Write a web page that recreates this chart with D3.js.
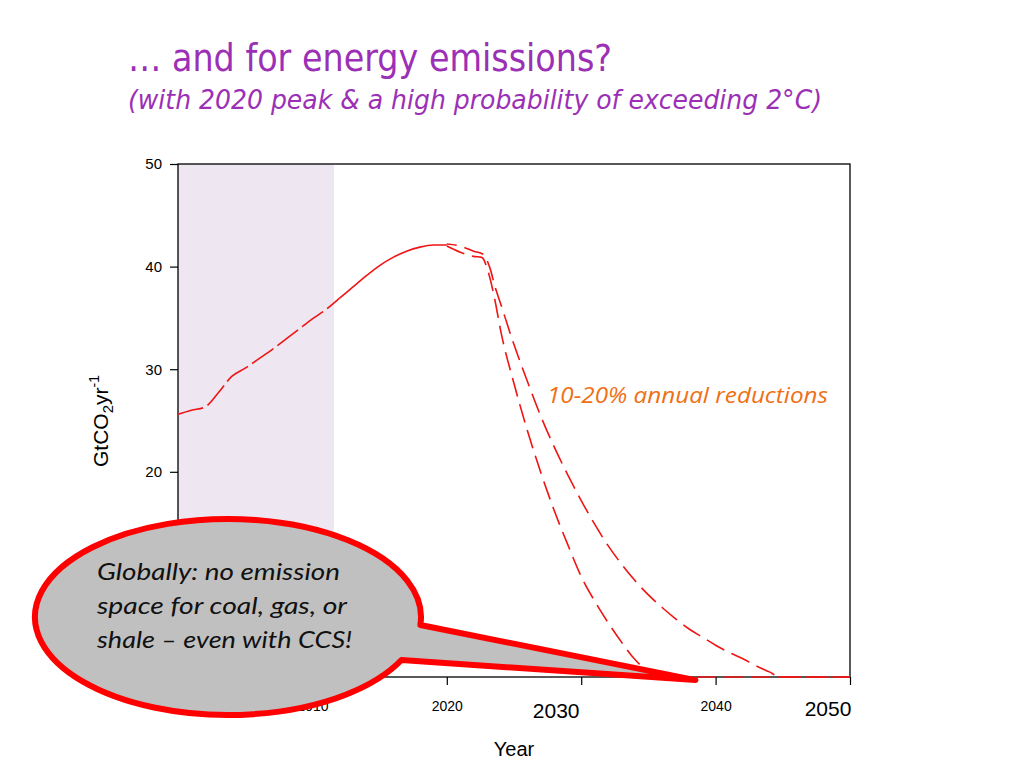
<!DOCTYPE html>
<html>
<head>
<meta charset="utf-8">
<script src="https://cdn.jsdelivr.net/npm/d3@7"></script>
<style>
  html, body { margin: 0; padding: 0; background: #ffffff; }
  svg { display: block; }
</style>
</head>
<body>
<svg id="chart" width="1024" height="768"></svg>
<script>
// ---------------- data ----------------
const historyYears  = [2000, 2001, 2002, 2003, 2004, 2005, 2006, 2007, 2008, 2009, 2010,
                       2011, 2012, 2013, 2014, 2015, 2016, 2017, 2018, 2019, 2020];
const historyValues = [25.6, 26.0, 26.3, 27.7, 29.3, 30.1, 31.0, 31.9, 32.9, 33.9, 34.9,
                       35.8, 36.9, 38.0, 39.1, 40.1, 40.9, 41.5, 41.9, 42.1, 42.1];

// 20% annual reductions (steeper)
const steepYears  = [2020, 2021, 2022, 2022.6, 2023.1, 2023.6, 2024, 2025, 2026, 2027, 2028,
                     2029, 2030, 2031, 2032, 2033, 2034, 2035, 2035.6, 2040, 2045, 2050];
const steepValues = [42.0, 41.4, 41.0, 40.9, 39.4, 36.6, 33.8, 28.6, 24.0, 19.9, 16.2,
                     12.9, 9.8, 7.4, 5.3, 3.4, 1.7, 0.5, 0, 0, 0, 0];

// 10% annual reductions (gentler)
const gentleYears  = [2020, 2021, 2022, 2022.7, 2023.2, 2023.6, 2024, 2025, 2026, 2027, 2028,
                      2029, 2030, 2031, 2032, 2033, 2034, 2035, 2036, 2037, 2038, 2039,
                      2040, 2041, 2042, 2043, 2044, 2044.8, 2050];
const gentleValues = [42.2, 42.0, 41.5, 41.2, 39.9, 38.0, 36.4, 32.4, 28.8, 25.4, 22.4,
                      19.7, 17.2, 14.9, 12.8, 11.0, 9.4, 8.0, 6.8, 5.7, 4.7, 3.9,
                      3.1, 2.4, 1.8, 1.1, 0.5, 0, 0];

const xTicks = [2000, 2010, 2020, 2030, 2040, 2050];
const xTickLabelsSmall = ["2000", "2010", "2020", "", "2040", ""];
const xBigLabels = [2030, 2050];
const yTicks = [0, 10, 20, 30, 40, 50];
const yTickLabels = ["", "", "20", "30", "40", "50"];   // 0 and 10 are hidden behind the callout
const shadeRange = [2000, 2011.6];
const dashedHistoryEnd = 2012;

const titleText = "\u2026 and for energy emissions?";
const subtitleText = "(with 2020 peak & a high probability of exceeding 2\u00B0C)";
const noteText = "10-20% annual reductions";
const calloutLines = ["Globally: no emission", "space for coal, gas, or", "shale \u2013 even with CCS!"];
const calloutPoint = [2038.5, -0.3];

// ---------------- layout ----------------
const svg = d3.select("#chart");
const pLeft = 178, pRight = 850, pTop = 164, pBottom = 677;
const red = "#f01414";

const x = d3.scaleLinear().domain([2000, 2050]).range([pLeft, pRight]);
const y = d3.scaleLinear().domain([0, 50]).range([pBottom, pTop]);

// Title
svg.append("text")
  .attr("x", 128).attr("y", 71)
  .attr("font-family", "'DejaVu Sans', Verdana, sans-serif")
  .attr("font-size", 37)
  .attr("fill", "#9b30b6")
  .attr("textLength", 484).attr("lengthAdjust", "spacingAndGlyphs")
  .text(titleText);

svg.append("text")
  .attr("x", 128).attr("y", 109)
  .attr("font-family", "'DejaVu Sans', Verdana, sans-serif")
  .attr("font-style", "italic")
  .attr("font-size", 26)
  .attr("fill", "#9b30b6")
  .attr("textLength", 694).attr("lengthAdjust", "spacingAndGlyphs")
  .text(subtitleText);

// Shaded historical region
svg.append("rect")
  .attr("x", x(shadeRange[0])).attr("y", pTop)
  .attr("width", x(shadeRange[1]) - x(shadeRange[0]))
  .attr("height", pBottom - pTop)
  .attr("fill", "#eee6f1");

// Axes
const axisFont = "'Liberation Sans', Arial, sans-serif";
const yAxis = svg.append("g")
  .attr("transform", `translate(${pLeft},0)`)
  .call(d3.axisLeft(y).tickValues(yTicks).tickSize(8).tickPadding(8).tickSizeOuter(0)
        .tickFormat((d, i) => yTickLabels[i]));
yAxis.selectAll("text").attr("font-family", axisFont).attr("font-size", 15).attr("fill", "#000");

const xAxis = svg.append("g")
  .attr("transform", `translate(0,${pBottom})`)
  .call(d3.axisBottom(x).tickValues(xTicks).tickSize(8).tickPadding(16).tickSizeOuter(0)
        .tickFormat((d, i) => xTickLabelsSmall[i]));
xAxis.selectAll("text").attr("font-family", axisFont).attr("font-size", 14).attr("fill", "#000");
svg.selectAll(".domain").remove();
svg.selectAll(".tick line").attr("stroke", "#000").attr("stroke-width", 1.2);

// Big tick labels (manually enlarged in original)
svg.selectAll("text.biglabel").data(xBigLabels).enter().append("text")
  .attr("class", "biglabel")
  .attr("x", d => x(d) - (d === 2030 ? 25 : 22))
  .attr("y", (d) => d === 2030 ? 718 : 716)
  .attr("text-anchor", "middle")
  .attr("font-family", axisFont)
  .attr("font-size", 21)
  .text(d => d);

// Frame
svg.append("rect")
  .attr("x", pLeft).attr("y", pTop)
  .attr("width", pRight - pLeft).attr("height", pBottom - pTop)
  .attr("fill", "none").attr("stroke", "#000").attr("stroke-width", 1.3);

// Axis titles
const yLab = svg.append("text")
  .attr("transform", `translate(108,421) rotate(-90)`)
  .attr("text-anchor", "middle")
  .attr("font-family", axisFont)
  .attr("font-size", 21);
yLab.append("tspan").text("GtCO");
yLab.append("tspan").attr("font-size", 15).attr("dy", 5).text("2");
yLab.append("tspan").attr("dy", -5).text("yr");
yLab.append("tspan").attr("font-size", 14).attr("dy", -9).text("-1");

svg.append("text")
  .attr("x", 514).attr("y", 756)
  .attr("text-anchor", "middle")
  .attr("font-family", axisFont)
  .attr("font-size", 20)
  .text("Year");

// Lines
const line = d3.line().x(d => x(d[0])).y(d => y(d[1])).curve(d3.curveMonotoneX);
const hist = historyYears.map((yr, i) => [yr, historyValues[i]]);
const steep = steepYears.map((yr, i) => [yr, steepValues[i]]);
const gentle = gentleYears.map((yr, i) => [yr, gentleValues[i]]);

svg.append("path").datum(hist.filter(d => d[0] <= dashedHistoryEnd))
  .attr("d", line).attr("fill", "none").attr("stroke", red)
  .attr("stroke-width", 1.6).attr("stroke-dasharray", "26,5");
svg.append("path").datum(hist.filter(d => d[0] >= dashedHistoryEnd))
  .attr("d", line).attr("fill", "none").attr("stroke", red)
  .attr("stroke-width", 1.6);

svg.append("path").datum(steep)
  .attr("d", line).attr("fill", "none").attr("stroke", red)
  .attr("stroke-width", 1.6).attr("stroke-dasharray", "19,8");
svg.append("path").datum(gentle)
  .attr("d", line).attr("fill", "none").attr("stroke", red)
  .attr("stroke-width", 1.6).attr("stroke-dasharray", "20,8").attr("stroke-dashoffset", 10);

// Note
svg.append("text")
  .attr("x", 547).attr("y", 403)
  .attr("font-family", "'Open Sans', sans-serif")
  .attr("font-style", "italic")
  .attr("font-size", 22)
  .attr("fill", "#ef7015")
  .attr("textLength", 281).attr("lengthAdjust", "spacingAndGlyphs")
  .text(noteText);

// Callout bubble
const ecx = 228, ecy = 617, erx = 193, ery = 98;
const angUp = Math.asin((625 - ecy) / ery), angLo = Math.asin((660 - ecy) / ery);
const pUp = [ecx + erx * Math.cos(angUp), ecy + ery * Math.sin(angUp)];
const pLo = [ecx + erx * Math.cos(angLo), ecy + ery * Math.sin(angLo)];
const tip = [x(calloutPoint[0]), y(calloutPoint[1])];
const bubble = `M${pLo[0]},${pLo[1]} A${erx},${ery} 0 1 1 ${pUp[0]},${pUp[1]} L${tip[0]},${tip[1]} Z`;
svg.append("path")
  .attr("d", bubble)
  .attr("fill", "#c0c0c0")
  .attr("stroke", "#ff0000")
  .attr("stroke-width", 6)
  .attr("stroke-linejoin", "round");

svg.selectAll("text.callout").data(calloutLines).enter().append("text")
  .attr("class", "callout")
  .attr("x", 97).attr("y", (d, i) => 580 + i * 34)
  .attr("font-family", "Lato, 'Open Sans', sans-serif")
  .attr("font-style", "italic")
  .attr("font-size", 23)
  .attr("fill", "#111")
  .attr("textLength", (d, i) => [243, 250, 255][i])
  .attr("lengthAdjust", "spacingAndGlyphs")
  .text(d => d);
</script>
</body>
</html>
